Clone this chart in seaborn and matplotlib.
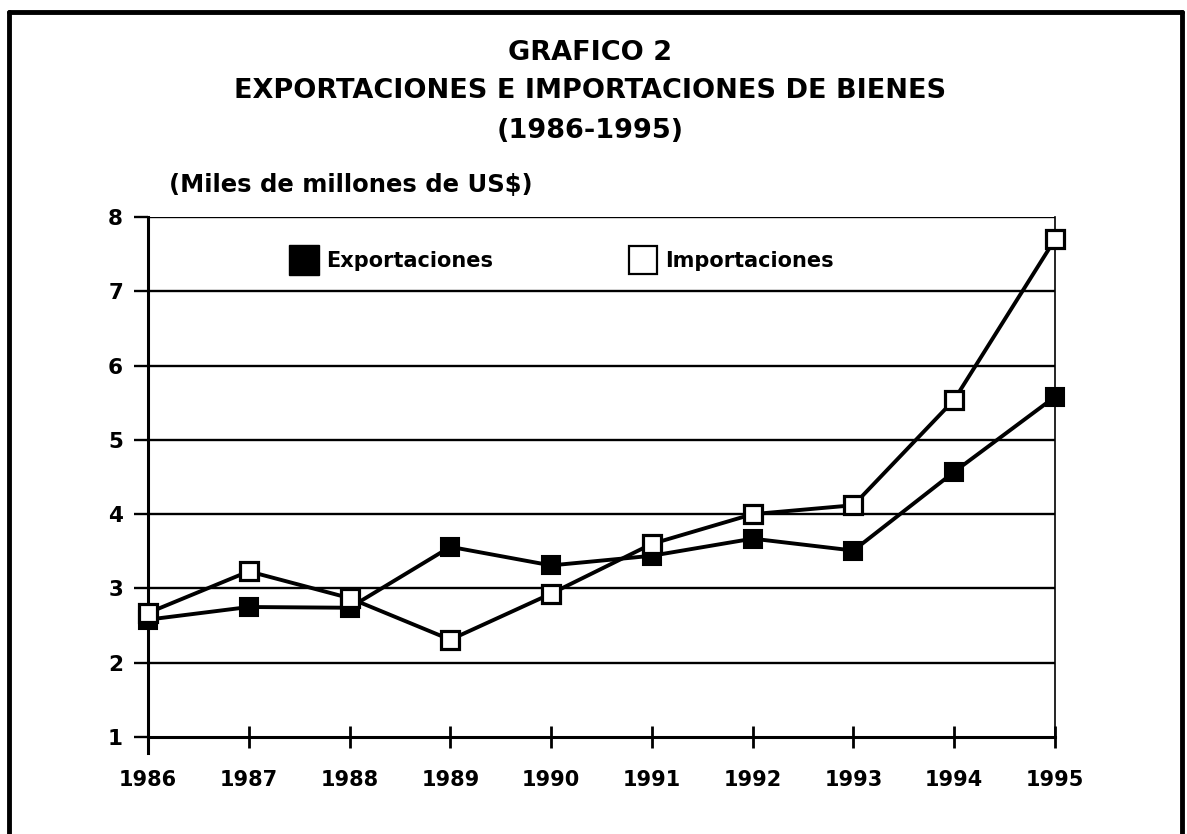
import matplotlib
matplotlib.use('Agg')
import matplotlib.pyplot as plt
import seaborn as sns
from matplotlib.lines import Line2D

# Datos (miles de millones de US$)
anios = [1986, 1987, 1988, 1989, 1990, 1991, 1992, 1993, 1994, 1995]
exportaciones = [2.58, 2.75, 2.74, 3.56, 3.31, 3.44, 3.67, 3.51, 4.57, 5.58]
importaciones = [2.67, 3.23, 2.87, 2.31, 2.93, 3.60, 4.00, 4.12, 5.54, 7.70]
etiquetas_y = [1, 2, 3, 4, 5, 6, 7, 8]

sns.set_style('white')
plt.rcParams['font.family'] = ['DejaVu Sans']
plt.rcParams['text.color'] = 'black'
plt.rcParams['xtick.color'] = 'black'
plt.rcParams['ytick.color'] = 'black'

fig = plt.figure(figsize=(11.87, 8.34), dpi=100)
ax = fig.add_axes([0.1247, 0.1163, 0.7641, 0.6235])

# Lineas de la cuadricula
for v in etiquetas_y[1:]:
    ax.axhline(v, color='black', lw=1.7, zorder=1)

sns.lineplot(x=anios, y=exportaciones, ax=ax, color='black', lw=2.8,
             marker='s', markersize=13.5, markerfacecolor='black',
             markeredgecolor='black', markeredgewidth=1.5, clip_on=False, zorder=3)
sns.lineplot(x=anios, y=importaciones, ax=ax, color='black', lw=2.8,
             marker='s', markersize=13.5, markerfacecolor='white',
             markeredgecolor='black', markeredgewidth=2.3, clip_on=False, zorder=4)

ax.set_xlim(anios[0], anios[-1])
ax.set_ylim(1, 8)
ax.set_xticks(anios)
ax.set_xticklabels([str(a) for a in anios], fontsize=15, fontweight='bold')
ax.set_yticks(etiquetas_y)
ax.set_yticklabels([str(v) for v in etiquetas_y], fontsize=15.5, fontweight='bold')
ax.tick_params(axis='x', direction='inout', length=16, width=2, pad=16, bottom=True)
ax.tick_params(axis='y', direction='out', length=10, width=1.7, pad=8, left=True)
ax.set_xlabel('')
ax.set_ylabel('')

for s in ['left', 'bottom']:
    ax.spines[s].set_linewidth(2.2)
    ax.spines[s].set_color('black')
ax.spines['left'].set_bounds(0.78, 8)
ax.spines['right'].set_linewidth(1.2)
ax.spines['right'].set_color('black')
ax.spines['top'].set_visible(False)

# Leyenda
h_exp = Line2D([], [], ls='none', marker='s', markersize=21, markerfacecolor='black',
               markeredgecolor='black')
h_imp = Line2D([], [], ls='none', marker='s', markersize=20, markerfacecolor='white',
               markeredgecolor='black', markeredgewidth=1.6)
leg = ax.legend([h_exp, h_imp], ['Exportaciones', 'Importaciones'], ncol=2,
                loc='center', bbox_to_anchor=(0.457, 0.915), frameon=False,
                columnspacing=6.6, handletextpad=0.45, handlelength=1.2,
                prop={'weight': 'bold', 'size': 15})

# Titulos
fig.text(0.497, 0.937, 'GRAFICO 2', ha='center', va='center', fontsize=19.5, fontweight='bold')
fig.text(0.497, 0.891, 'EXPORTACIONES E IMPORTACIONES DE BIENES', ha='center', va='center',
         fontsize=19.5, fontweight='bold')
fig.text(0.497, 0.843, '(1986-1995)', ha='center', va='center', fontsize=19.5, fontweight='bold')
fig.text(0.142, 0.778, '(Miles de millones de US$)', ha='left', va='center',
         fontsize=17.5, fontweight='bold')

# Marco exterior
fig.add_artist(Line2D([0.008, 0.008], [0.0, 0.986], color='black', lw=3.5))
fig.add_artist(Line2D([0.008, 0.996], [0.986, 0.986], color='black', lw=3.5))
fig.add_artist(Line2D([0.996, 0.996], [0.0, 0.986], color='black', lw=3.5))

fig.savefig('out.png', dpi=100)
